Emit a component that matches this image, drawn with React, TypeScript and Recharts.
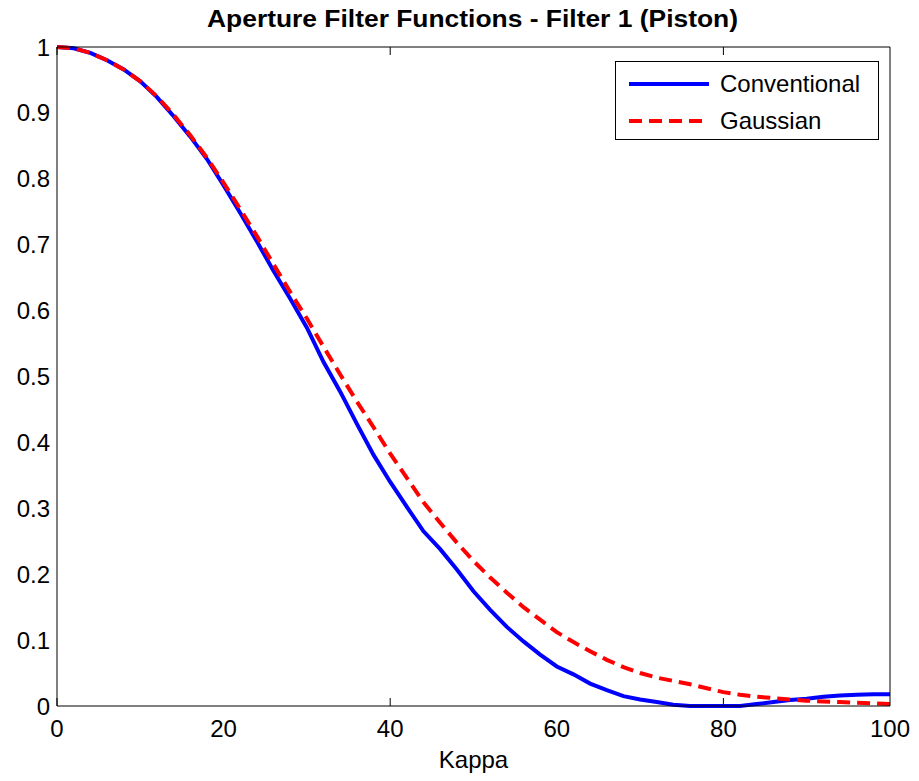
import { LineChart, Line, XAxis, YAxis, Legend, Label } from "recharts";

const kappa = [
  0, 2, 4, 6, 8, 10, 12, 14, 16, 18, 20, 22, 24, 26, 28, 30, 32, 34, 36, 38, 40,
  42, 44, 46, 48, 50, 52, 54, 56, 58, 60, 62, 64, 66, 68, 70, 72, 74, 76, 78, 80,
  82, 84, 86, 88, 90, 92, 94, 96, 98, 100,
];

const conventional = [
  1.0, 0.998, 0.991, 0.98, 0.966, 0.948, 0.924, 0.895, 0.864, 0.83, 0.79, 0.748,
  0.705, 0.66, 0.618, 0.574, 0.522, 0.477, 0.428, 0.381, 0.34, 0.302, 0.265,
  0.238, 0.207, 0.174, 0.146, 0.12, 0.098, 0.078, 0.06, 0.048, 0.034, 0.024,
  0.015, 0.01, 0.006, 0.002, 0.0, 0.0, 0.0, 0.0, 0.003, 0.006, 0.009, 0.011,
  0.014, 0.016, 0.017, 0.018, 0.018,
];

const gaussian = [
  1.0, 0.998, 0.991, 0.98, 0.966, 0.948, 0.925, 0.897, 0.866, 0.832, 0.794,
  0.754, 0.713, 0.67, 0.628, 0.588, 0.545, 0.503, 0.462, 0.423, 0.383, 0.346,
  0.309, 0.278, 0.248, 0.22, 0.195, 0.172, 0.15, 0.131, 0.112, 0.097, 0.083,
  0.07, 0.059, 0.05, 0.043, 0.038, 0.033, 0.027, 0.021, 0.017, 0.014, 0.012,
  0.01, 0.008, 0.007, 0.006, 0.005, 0.004, 0.003,
];

const xTicks = [0, 20, 40, 60, 80, 100];
const yTicks = [0, 0.1, 0.2, 0.3, 0.4, 0.5, 0.6, 0.7, 0.8, 0.9, 1];

const data = kappa.map((k, i) => ({
  k,
  conventional: conventional[i],
  gaussian: gaussian[i],
}));

const FONT = "'Liberation Sans', Arial, Helvetica, sans-serif";
const tickStyle = { fill: "#000", fontSize: 24, fontFamily: FONT };

// empty tick label so only the inward tick marks get drawn
const NoLabel = () => <g />;

function LegendBox() {
  const items = [
    { label: "Conventional", color: "#0000ff", dash: undefined },
    { label: "Gaussian", color: "#ff0000", dash: "13 7" },
  ];
  return (
    <div
      style={{
        width: 262,
        height: 77,
        border: "1px solid #000",
        background: "#fff",
        boxSizing: "content-box",
        fontFamily: FONT,
        fontSize: 24,
        color: "#000",
      }}
    >
      {items.map((it, i) => (
        <div
          key={it.label}
          style={{
            display: "flex",
            alignItems: "center",
            height: 37,
            marginTop: i === 0 ? 3 : 0,
          }}
        >
          <svg width={104} height={10} style={{ display: "block" }}>
            <line
              x1={13}
              x2={93}
              y1={5}
              y2={5}
              stroke={it.color}
              strokeWidth={4}
              strokeDasharray={it.dash}
            />
          </svg>
          <span>{it.label}</span>
        </div>
      ))}
    </div>
  );
}

export default function App() {
  return (
    <div
      style={{
        position: "absolute",
        left: 0,
        top: 0,
        width: 919,
        height: 781,
        background: "#fff",
      }}
    >
      <svg
        width={919}
        height={40}
        style={{ position: "absolute", left: 0, top: 0 }}
      >
        <text
          x={207}
          y={27}
          fontFamily={FONT}
          fontWeight="bold"
          fontSize={23}
          textLength={531}
          lengthAdjust="spacingAndGlyphs"
          fill="#000"
        >
          Aperture Filter Functions - Filter 1 (Piston)
        </text>
      </svg>
      <LineChart
        width={919}
        height={781}
        data={data}
        margin={{ top: 47, right: 29, left: 0, bottom: 0 }}
      >
        <XAxis
          dataKey="k"
          type="number"
          domain={[0, 100]}
          ticks={xTicks}
          height={75}
          tickLine={false}
          tickSize={0}
          tickMargin={14}
          axisLine={{ stroke: "#000", strokeWidth: 1 }}
          tick={tickStyle}
          interval={0}
        >
          <Label
            value="Kappa"
            position="insideBottom"
            offset={13}
            style={{ fill: "#000", fontSize: 24, fontFamily: FONT }}
          />
        </XAxis>
        <XAxis
          xAxisId="bottomTicks"
          type="number"
          domain={[0, 100]}
          ticks={xTicks}
          orientation="bottom"
          mirror
          tick={NoLabel}
          tickSize={8}
          axisLine={false}
          tickLine={{ stroke: "#000" }}
          interval={0}
        />
        <XAxis
          xAxisId="top"
          type="number"
          domain={[0, 100]}
          ticks={xTicks}
          orientation="top"
          mirror
          tick={NoLabel}
          tickSize={8}
          axisLine={{ stroke: "#000" }}
          tickLine={{ stroke: "#000" }}
          interval={0}
        />
        <YAxis
          type="number"
          domain={[0, 1]}
          ticks={yTicks}
          width={57}
          tickLine={false}
          tickSize={0}
          tickMargin={7}
          axisLine={{ stroke: "#000", strokeWidth: 1 }}
          tick={tickStyle}
          interval={0}
        />
        <YAxis
          yAxisId="leftTicks"
          type="number"
          domain={[0, 1]}
          ticks={yTicks}
          orientation="left"
          mirror
          tick={NoLabel}
          tickSize={8}
          axisLine={false}
          tickLine={{ stroke: "#000" }}
          interval={0}
        />
        <YAxis
          yAxisId="right"
          type="number"
          domain={[0, 1]}
          ticks={yTicks}
          orientation="right"
          mirror
          tick={NoLabel}
          tickSize={8}
          axisLine={{ stroke: "#000" }}
          tickLine={{ stroke: "#000" }}
          interval={0}
        />
        <Legend
          layout="horizontal"
          verticalAlign="middle"
          align="center"
          content={<LegendBox />}
          wrapperStyle={{ position: "absolute", left: 615, top: 61, width: 264 }}
        />
        <Line
          type="linear"
          dataKey="conventional"
          stroke="#0000ff"
          strokeWidth={4}
          dot={false}
          isAnimationActive={false}
        />
        <Line
          type="linear"
          dataKey="gaussian"
          stroke="#ff0000"
          strokeWidth={4}
          strokeDasharray="13 7"
          dot={false}
          isAnimationActive={false}
        />
      </LineChart>
    </div>
  );
}
